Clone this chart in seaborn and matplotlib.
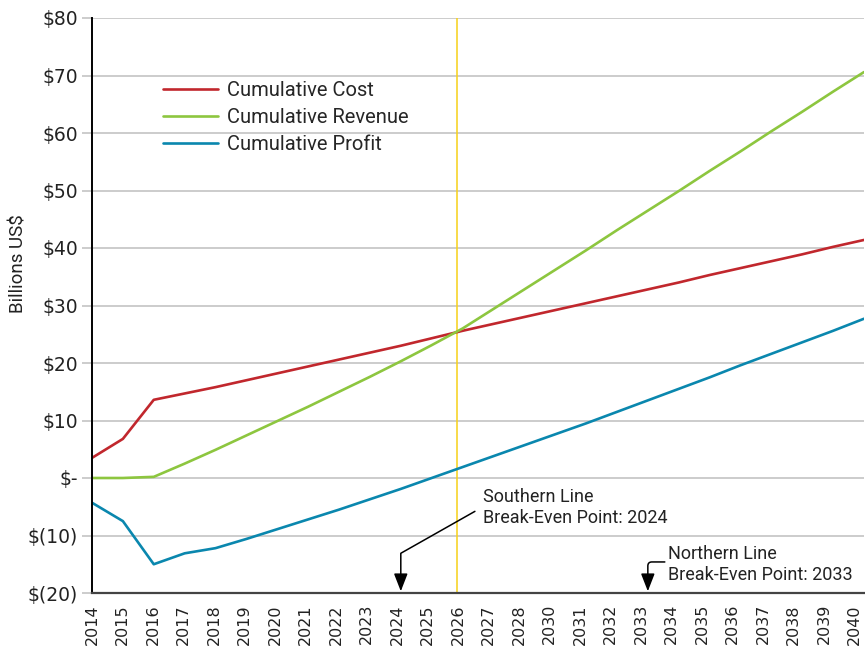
"""
Cumulative cost / revenue / profit chart with break-even annotations.
"""
import matplotlib

matplotlib.use("Agg")
import matplotlib.pyplot as plt
import numpy as np
import pandas as pd
import seaborn as sns

# category labels as printed on the x axis (2029 is absent in the source)
YEARS = [
    "2014", "2015", "2016", "2017", "2018", "2019", "2020", "2021", "2022",
    "2023", "2024", "2025", "2026", "2027", "2028", "2030", "2031", "2032",
    "2033", "2034", "2035", "2036", "2037", "2038", "2039", "2040",
]
COST = [
    3.5, 6.8, 13.6, 14.7, 15.8, 17.0, 18.2, 19.4, 20.6, 21.8, 23.0, 24.3, 25.6,
    26.8, 28.0, 29.2, 30.4, 31.6, 32.8, 34.0, 35.3, 36.5, 37.7, 38.9, 40.2, 41.4,
]
REVENUE = [
    0.0, 0.0, 0.2, 2.5, 4.9, 7.4, 9.9, 12.4, 15.0, 17.6, 20.3, 23.1, 26.0,
    29.4, 32.8, 36.2, 39.6, 43.1, 46.5, 49.9, 53.4, 56.8, 60.3, 63.7, 67.2, 70.6,
]
PROFIT = [
    -4.3, -7.5, -15.0, -13.1, -12.2, -10.6, -8.9, -7.2, -5.5, -3.7, -1.9, 0.0, 1.9,
    3.8, 5.7, 7.6, 9.5, 11.5, 13.5, 15.5, 17.5, 19.6, 21.6, 23.6, 25.6, 27.7,
]
SERIES = ["Cumulative Cost", "Cumulative Revenue", "Cumulative Profit"]
Y_TICKS = [-20, -10, 0, 10, 20, 30, 40, 50, 60, 70, 80]
Y_LABELS = ["$(20)", "$(10)", "$-", "$10", "$20", "$30", "$40", "$50", "$60", "$70", "$80"]

CROSSING_POS = 11.82  # where cost and revenue meet (yellow marker line)
SOUTH_YEAR = "2024"
NORTH_YEAR = "2033"

COLORS = {
    "Cumulative Cost": "#C1272D",
    "Cumulative Revenue": "#8DC63F",
    "Cumulative Profit": "#0A87AE",
}
GRID = "#C8C8C8"
TEXT_FONT = ["Roboto", "DejaVu Sans"]


def build_frame() -> pd.DataFrame:
    pos = np.arange(len(YEARS))
    parts = []
    for name, vals in zip(SERIES, [COST, REVENUE, PROFIT]):
        parts.append(pd.DataFrame({"pos": pos, "value": vals, "series": name}))
    return pd.concat(parts, ignore_index=True)


def main():
    sns.set_theme(style="white")
    plt.rcParams["font.family"] = ["DejaVu Sans"]

    df = build_frame()
    fig = plt.figure(figsize=(8.65, 6.6), dpi=100)
    ax = fig.add_axes([92 / 865, 1 - 593 / 660, 772 / 865, 575 / 660])

    sns.lineplot(
        data=df, x="pos", y="value", hue="series", hue_order=SERIES,
        palette=COLORS, linewidth=1.9, sort=False, ax=ax, legend=True,
    )

    n = len(YEARS)
    ax.set_xlim(0, n - 1)
    ax.set_ylim(-20, 80)

    ax.set_yticks(Y_TICKS)
    ax.set_yticklabels(Y_LABELS, fontsize=13.5, color="#222222")
    ax.yaxis.grid(True, color=GRID, linewidth=1.3)
    ax.xaxis.grid(False)
    ax.tick_params(axis="y", length=7, width=1.3, color=GRID, pad=3, left=True)

    # the source squeezes its year labels a little so the last one stays inside
    ax.set_xticks(np.arange(n) * (n - 1.3) / (n - 1))
    ax.set_xticklabels(YEARS, rotation=90, fontsize=11.5, color="#222222")
    ax.tick_params(axis="x", length=0, pad=8)

    ax.set_xlabel("")
    ax.set_ylabel("Billions US$", fontsize=13.5, family=TEXT_FONT, color="#222222")
    ax.yaxis.set_label_coords(-0.083, 0.572)

    for side in ["top", "right"]:
        ax.spines[side].set_visible(False)
    ax.spines["left"].set_color("black")
    ax.spines["left"].set_linewidth(1.4)
    ax.spines["bottom"].set_color("#444444")
    ax.spines["bottom"].set_linewidth(1.6)
    ax.set_axisbelow(True)

    ax.axvline(CROSSING_POS, color="#F7D117", linewidth=1.1, zorder=1)

    handles, labels = ax.get_legend_handles_labels()
    ax.legend(
        handles, labels, loc="upper left", bbox_to_anchor=(0.092, 0.89),
        frameon=False, handlelength=2.74, handletextpad=0.45, labelspacing=0.38,
        borderpad=0, borderaxespad=0, prop={"family": TEXT_FONT, "size": 14.5},
    )

    south = YEARS.index(SOUTH_YEAR)
    north = YEARS.index(NORTH_YEAR)
    arrow = dict(arrowstyle="-|>,head_length=0.9,head_width=0.35", color="black",
                 linewidth=1.1, shrinkA=0, shrinkB=0)

    ax.text(12.66, -5.2, "Southern Line\nBreak-Even Point: " + SOUTH_YEAR,
            fontsize=13, family=TEXT_FONT, va="center", ha="left",
            linespacing=1.2, color="#222222")
    ax.annotate("", xy=(south, -19.7), xytext=(12.4, -5.8),
                arrowprops=dict(arrow, connectionstyle="angle,angleA=29.5,angleB=90,rad=0"))

    ax.text(18.65, -15.0, "Northern Line\nBreak-Even Point: " + NORTH_YEAR,
            fontsize=13, family=TEXT_FONT, va="center", ha="left",
            linespacing=1.2, color="#222222")
    ax.annotate("", xy=(north, -19.7), xytext=(18.55, -14.6),
                arrowprops=dict(arrow, connectionstyle="angle,angleA=180,angleB=90,rad=4"))

    fig.savefig("out.png", dpi=100)
    plt.close(fig)


if __name__ == "__main__":
    main()
